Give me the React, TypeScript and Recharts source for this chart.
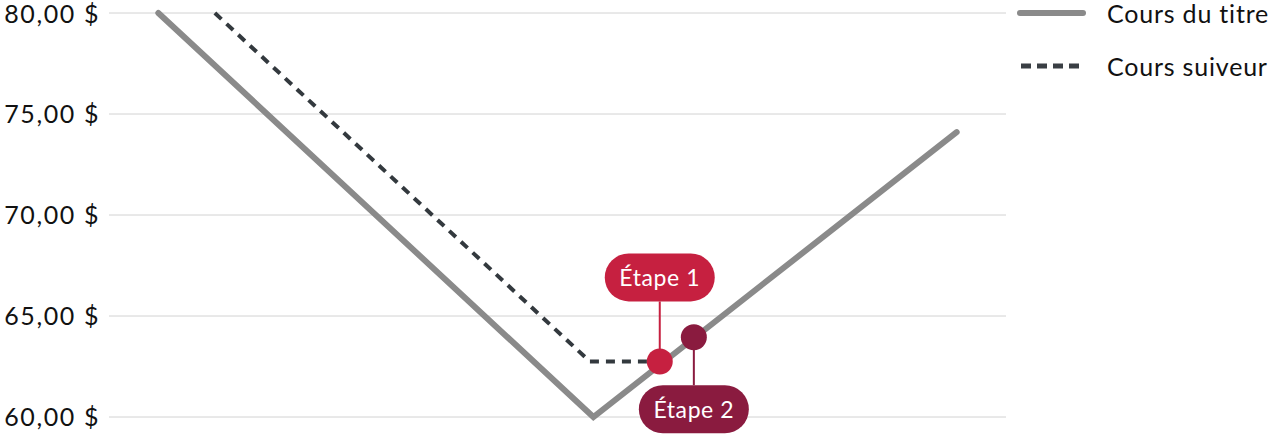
import React from "react"
import {
  LineChart, Line, XAxis, YAxis, CartesianGrid, Scatter,
} from "recharts"

// jours (axe x caché) et cours en $
const coursTitre = [
  { x: 5.5, y: 80 },
  { x: 54, y: 60 },
  { x: 94.5, y: 74.1 },
]
const coursSuiveur = [
  { x: 11.8, y: 80 },
  { x: 53.6, y: 62.75 },
  { x: 61.4, y: 62.75 },
]
const etapes = [
  { x: 61.4, y: 62.75, label: "Étape 1", side: "up", color: "#C62040" },
  { x: 65.2, y: 63.95, label: "Étape 2", side: "down", color: "#8A1B3F" },
]
const yTicks = [60, 65, 70, 75, 80]

const FONT = "Lato, 'Open Sans', sans-serif"

function fmt(v: number) {
  return `${v.toFixed(2).replace(".", ",")} $`
}

const EtapeShape = (props: any) => {
  const { cx, cy, payload } = props
  const up = payload.side === "up"
  const pillW = 110
  const pillH = 48
  const pillCy = up ? cy - 84 : cy + 72
  return (
    <g>
      <line
        x1={cx}
        y1={cy}
        x2={cx}
        y2={up ? pillCy + pillH / 2 : pillCy - pillH / 2}
        stroke={payload.color}
        strokeWidth={2}
      />
      <rect
        x={cx - pillW / 2}
        y={pillCy - pillH / 2}
        width={pillW}
        height={pillH}
        rx={24}
        fill={payload.color}
      />
      <text
        x={cx}
        y={pillCy}
        textAnchor="middle"
        dominantBaseline="central"
        fill="#fff"
        fontSize={23}
        letterSpacing={0.6}
        fontFamily={FONT}
      >
        {payload.label}
      </text>
      <circle cx={cx} cy={cy} r={13} fill={payload.color} />
    </g>
  )
}

const Legende = () => (
  <div style={{ position: "absolute", left: 1012, top: 0, fontFamily: FONT, fontSize: 25, letterSpacing: 0.8, color: "#111" }}>
    <div style={{ display: "flex", alignItems: "center", height: 26 }}>
      <svg width={95} height={26}>
        <line x1={8} y1={13} x2={71} y2={13} stroke="#8a8a8a" strokeWidth={6} strokeLinecap="round" />
      </svg>
      <span>Cours du titre</span>
    </div>
    <div style={{ display: "flex", alignItems: "center", height: 26, marginTop: 27 }}>
      <svg width={95} height={26}>
        <line x1={9} y1={13} x2={67} y2={13} stroke="#3a3f44" strokeWidth={5} strokeDasharray="10 6" />
      </svg>
      <span>Cours suiveur</span>
    </div>
  </div>
)

export default function App() {
  return (
    <div style={{ position: "absolute", left: 0, top: 0, width: 1280, height: 440, background: "#fff" }}>
      <LineChart width={1280} height={440} margin={{ top: 13, right: 274, bottom: 23, left: 0 }}>
        <CartesianGrid horizontal vertical={false} stroke="#d2d2d2" strokeWidth={1} />
        <XAxis type="number" dataKey="x" domain={[0, 100]} hide />
        <YAxis
          type="number"
          dataKey="y"
          domain={[60, 80]}
          ticks={yTicks}
          width={109}
          axisLine={false}
          tickLine={false}
          tickMargin={3}
          tickFormatter={fmt}
          tick={{ fontSize: 25, fill: "#111", fontFamily: FONT, letterSpacing: 1.6 }}
        />
        <Line
          data={coursTitre}
          dataKey="y"
          name="Cours du titre"
          stroke="#8a8a8a"
          strokeWidth={6}
          strokeLinecap="round"
          strokeLinejoin="miter"
          dot={false}
          type="linear"
          isAnimationActive={false}
        />
        <Line
          data={coursSuiveur}
          dataKey="y"
          name="Cours suiveur"
          stroke="#33393e"
          strokeWidth={4}
          strokeDasharray="9 7"
          dot={false}
          type="linear"
          isAnimationActive={false}
        />
        <Scatter data={etapes} dataKey="y" shape={EtapeShape} isAnimationActive={false} legendType="none" />
      </LineChart>
      <Legende />
    </div>
  )
}
